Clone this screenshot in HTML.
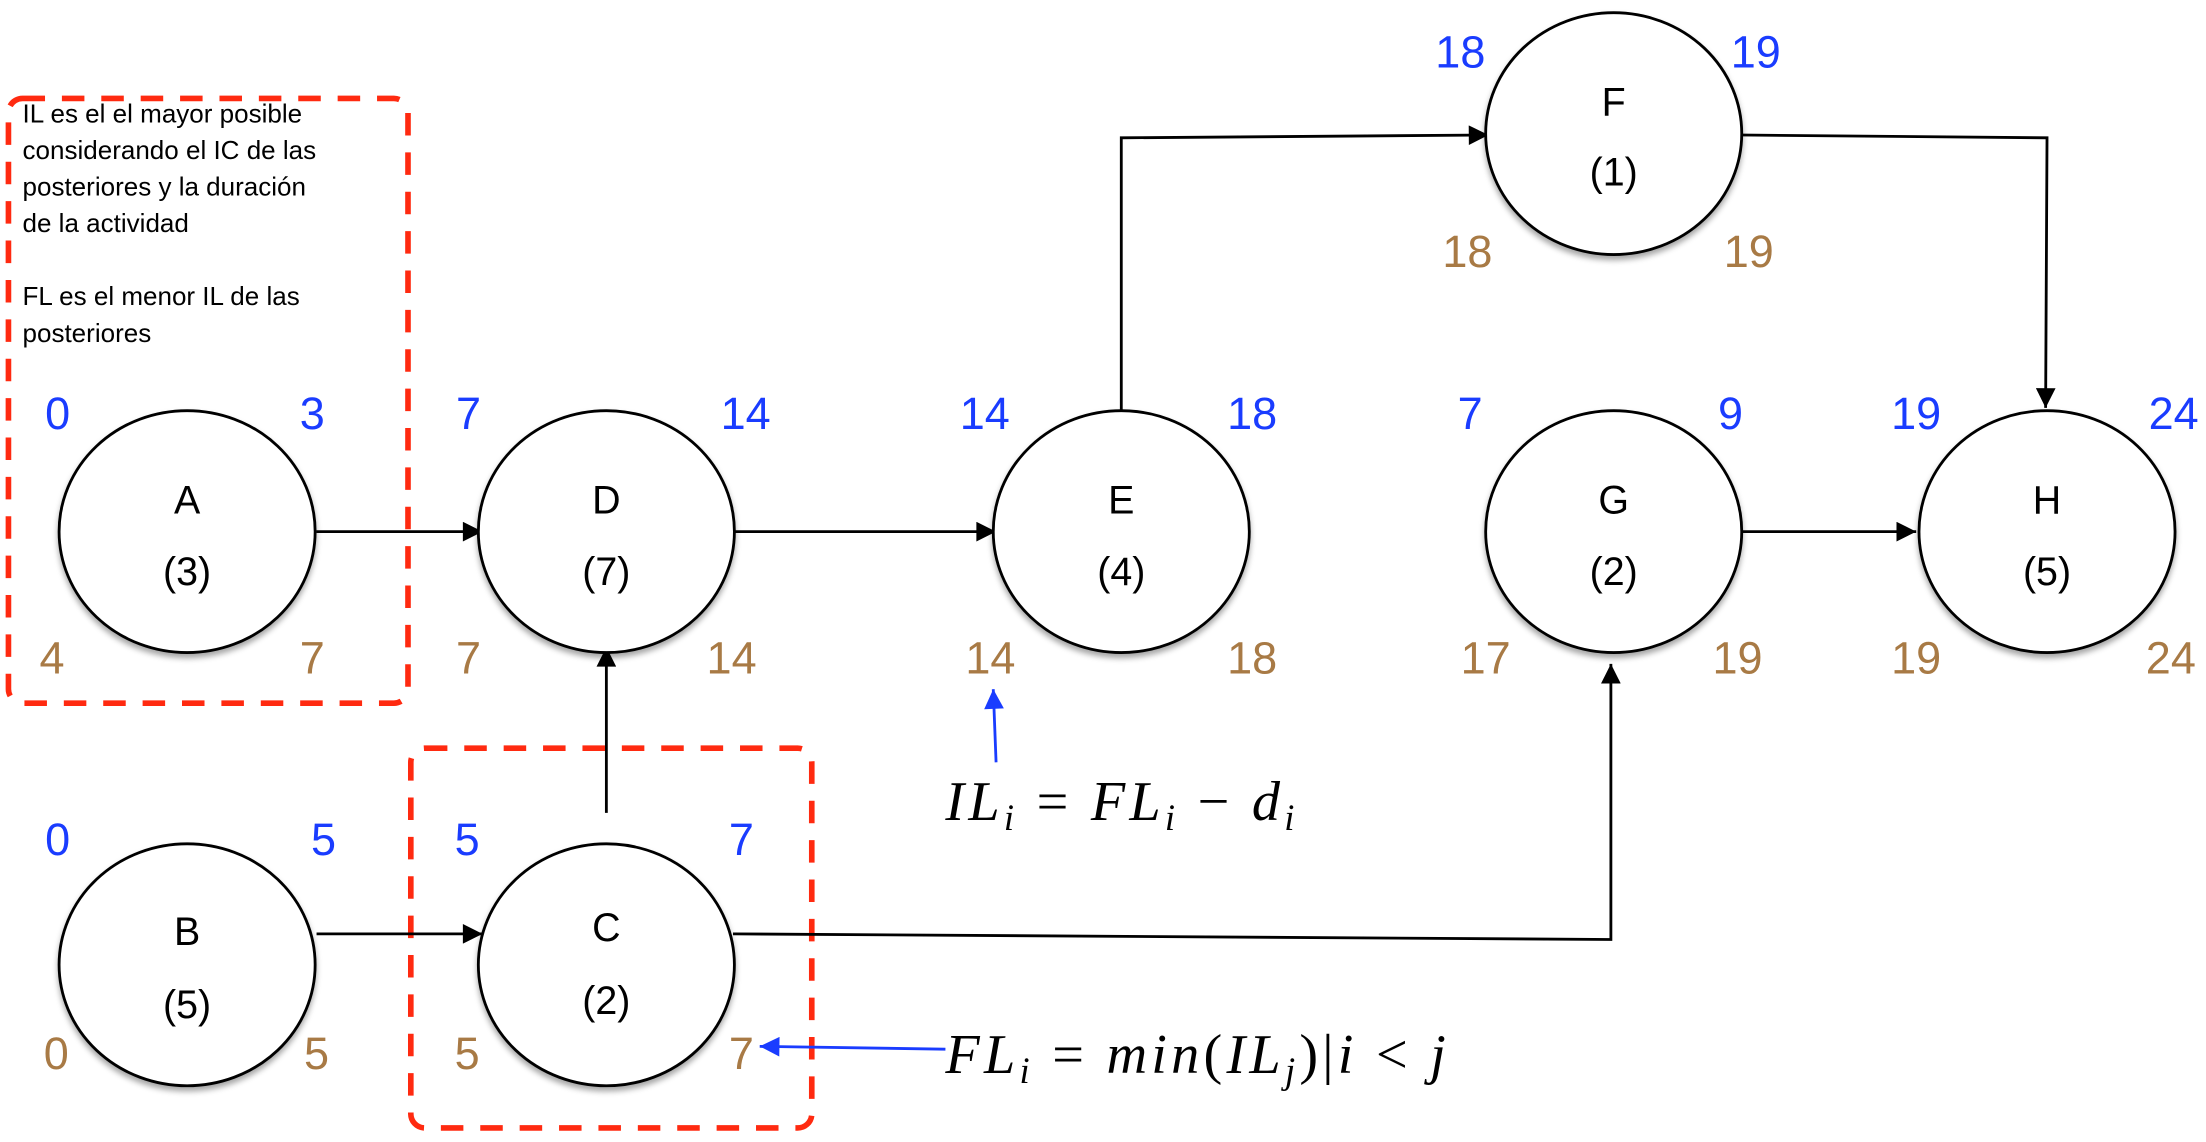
<!DOCTYPE html>
<html><head><meta charset="utf-8"><style>
html,body{margin:0;padding:0;background:#fff;}
svg{display:block;}
.n{font-family:"Liberation Sans",sans-serif;font-size:32px;text-anchor:middle;}
.b{fill:#1a3cff}.o{fill:#a87a45}
.l{font-family:"Liberation Sans",sans-serif;font-size:28px;text-anchor:middle;fill:#000}
.t{font-family:"Liberation Sans",sans-serif;font-size:18.5px;fill:#000}
.m{font-family:"Liberation Serif",serif;font-size:40px;font-style:italic;fill:#000;letter-spacing:3px}
</style></head><body>
<svg width="2206" height="1142" viewBox="0 0 1568 812" preserveAspectRatio="none">
<defs>
<marker id="ar" viewBox="0 0 10 10" refX="10" refY="5" markerWidth="24" markerHeight="14" markerUnits="userSpaceOnUse" orient="auto"><path d="M0,0L10,5L0,10z" fill="#000"/></marker>
<marker id="ab" viewBox="0 0 10 10" refX="10" refY="5" markerWidth="22" markerHeight="14" markerUnits="userSpaceOnUse" orient="auto"><path d="M0,0L10,5L0,10z" fill="#1a3cff"/></marker>
<filter id="sh"><feDropShadow dx="0" dy="3" stdDeviation="2" flood-opacity="0.35"/></filter>
</defs>
<g stroke="#ff2a10" stroke-width="4" fill="none" stroke-dasharray="16,12">
<rect x="6" y="70" width="284" height="430" rx="10"/>
<rect x="292" y="532" width="285" height="270" rx="10"/>
</g>
<g class="t">
<text x="16" y="87">IL es el el mayor posible</text>
<text x="16" y="113">considerando el IC de las</text>
<text x="16" y="139">posteriores y la duración</text>
<text x="16" y="165">de la actividad</text>
<text x="16" y="217">FL es el menor IL de las</text>
<text x="16" y="243">posteriores</text>
</g>
<g stroke="#000" stroke-width="2" fill="none">
<line x1="225" y1="378" x2="343" y2="378" marker-end="url(#ar)"/>
<line x1="520" y1="378" x2="708" y2="378" marker-end="url(#ar)"/>
<line x1="1238" y1="378" x2="1362" y2="378" marker-end="url(#ar)"/>
<line x1="225" y1="664" x2="343" y2="664" marker-end="url(#ar)"/>
<line x1="431" y1="578" x2="431" y2="460" marker-end="url(#ar)"/>
<polyline points="521,664 1145,668 1145,472" marker-end="url(#ar)"/>
<polyline points="797,292 797,98 1058,96" marker-end="url(#ar)"/>
<polyline points="1238,96 1455,98 1454,290" marker-end="url(#ar)"/>
</g>
<g stroke="#000" stroke-width="2" fill="#fff" filter="url(#sh)">
<ellipse cx="133" cy="378" rx="91" ry="86"/>
<ellipse cx="431" cy="378" rx="91" ry="86"/>
<ellipse cx="797" cy="378" rx="91" ry="86"/>
<ellipse cx="1147" cy="378" rx="91" ry="86"/>
<ellipse cx="1455" cy="378" rx="91" ry="86"/>
<ellipse cx="1147" cy="95" rx="91" ry="86"/>
<ellipse cx="133" cy="686" rx="91" ry="86"/>
<ellipse cx="431" cy="686" rx="91" ry="86"/>
</g>
<g class="l">
<text x="133" y="365">A</text><text x="133" y="416">(3)</text>
<text x="431" y="365">D</text><text x="431" y="416">(7)</text>
<text x="797" y="365">E</text><text x="797" y="416">(4)</text>
<text x="1147" y="365">G</text><text x="1147" y="416">(2)</text>
<text x="1455" y="365">H</text><text x="1455" y="416">(5)</text>
<text x="1147" y="82">F</text><text x="1147" y="132">(1)</text>
<text x="133" y="672">B</text><text x="133" y="724">(5)</text>
<text x="431" y="669">C</text><text x="431" y="721">(2)</text>
</g>
<g class="n b">
<text x="41" y="305">0</text><text x="222" y="305">3</text>
<text x="333" y="305">7</text><text x="530" y="305">14</text>
<text x="700" y="305">14</text><text x="890" y="305">18</text>
<text x="1045" y="305">7</text><text x="1230" y="305">9</text>
<text x="1362" y="305">19</text><text x="1545" y="305">24</text>
<text x="1038" y="48">18</text><text x="1248" y="48">19</text>
<text x="41" y="608">0</text><text x="230" y="608">5</text>
<text x="332" y="608">5</text><text x="527" y="608">7</text>
</g>
<g class="n o">
<text x="37" y="479">4</text><text x="222" y="479">7</text>
<text x="333" y="479">7</text><text x="520" y="479">14</text>
<text x="704" y="479">14</text><text x="890" y="479">18</text>
<text x="1056" y="479">17</text><text x="1235" y="479">19</text>
<text x="1362" y="479">19</text><text x="1543" y="479">24</text>
<text x="1043" y="190">18</text><text x="1243" y="190">19</text>
<text x="40" y="760">0</text><text x="225" y="760">5</text>
<text x="332" y="760">5</text><text x="527" y="760">7</text>
</g>
<line x1="708" y1="542" x2="706" y2="490" stroke="#1a3cff" stroke-width="2" marker-end="url(#ab)"/>
<line x1="672" y1="746" x2="540" y2="744" stroke="#1a3cff" stroke-width="2" marker-end="url(#ab)"/>
<text class="m" x="672" y="583">IL<tspan font-size="26" dy="7">i</tspan><tspan dy="-7" font-style="normal"> = </tspan>FL<tspan font-size="26" dy="7">i</tspan><tspan dy="-7" font-style="normal"> − </tspan>d<tspan font-size="26" dy="7">i</tspan></text>
<text class="m" x="672" y="763">FL<tspan font-size="26" dy="7">i</tspan><tspan dy="-7" font-style="normal"> = </tspan>min<tspan font-style="normal">(</tspan>IL<tspan font-size="26" dy="7">j</tspan><tspan dy="-7" font-style="normal">)|</tspan>i<tspan font-style="normal"> &lt; </tspan>j</text>
</svg>
</body></html>
